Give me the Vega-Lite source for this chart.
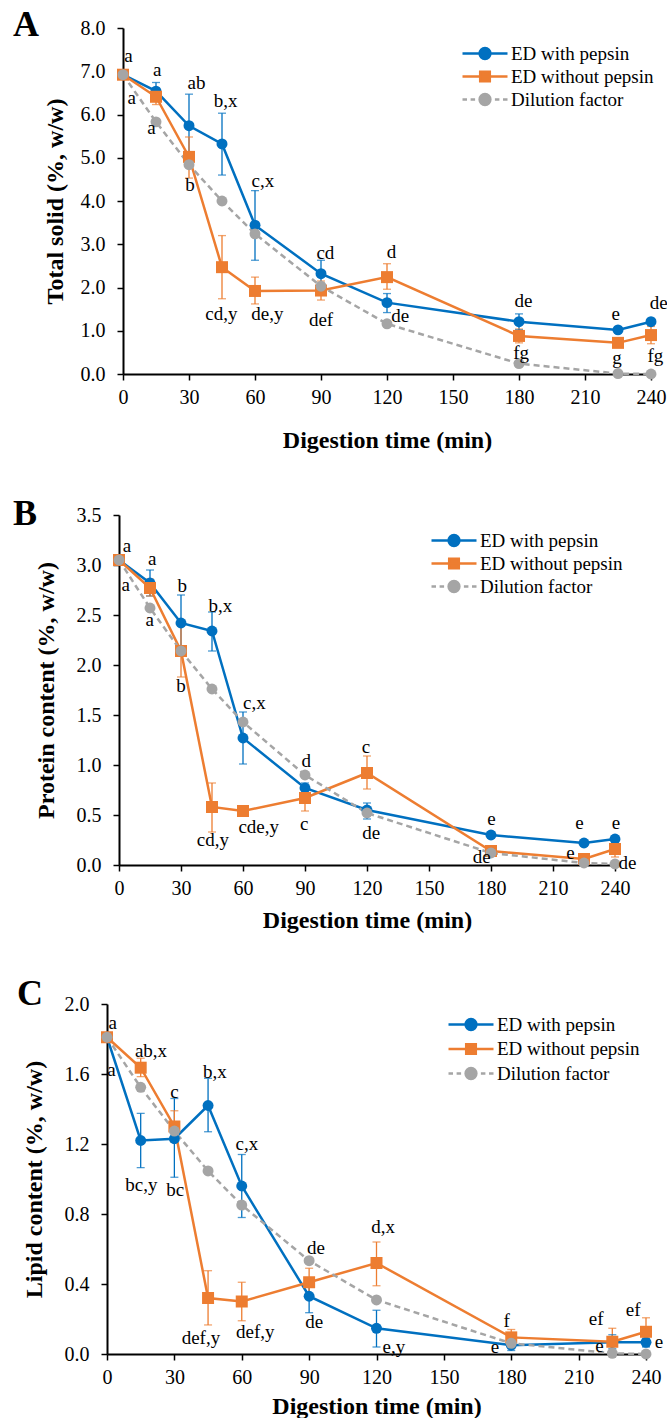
{
  "$schema": "https://vega.github.io/schema/vega-lite/v6.json",
  "background": "white",
  "padding": {"left": 13, "top": 7, "right": 0, "bottom": 0},
  "spacing": 44,
  "config": {
    "view": {"stroke": null},
    "font": "Liberation Serif",
    "axis": {"grid": false, "domainColor": "black", "domainWidth": 2, "tickColor": "black", "tickWidth": 1.5, "tickSize": 6, "labelFont": "Liberation Serif", "labelFontSize": 20, "labelColor": "black", "titleFont": "Liberation Serif", "titleFontSize": 24, "titleFontWeight": "bold", "titleColor": "black"},
    "axisX": {"labelPadding": 7, "titlePadding": 7, "labelFlush": false},
    "axisY": {"labelPadding": 12},
    "legend": {"orient": "none", "title": null, "padding": 0, "labelFont": "Liberation Serif", "labelFontSize": 19, "labelColor": "black", "labelLimit": 0, "symbolSize": 144, "symbolStrokeWidth": 2.5, "symbolOpacity": 1, "labelOffset": 16.5, "rowPadding": 2}
  },
  "datasets": {
    "A": [
      {"s": "ED with pepsin", "t": 0, "v": 6.92},
      {"s": "ED with pepsin", "t": 15, "v": 6.54, "lo": 6.34, "hi": 6.74},
      {"s": "ED with pepsin", "t": 30, "v": 5.74, "lo": 5.01, "hi": 6.47},
      {"s": "ED with pepsin", "t": 45, "v": 5.32, "lo": 4.60, "hi": 6.03},
      {"s": "ED with pepsin", "t": 60, "v": 3.44, "lo": 2.63, "hi": 4.24},
      {"s": "ED with pepsin", "t": 90, "v": 2.32, "lo": 2.01, "hi": 2.63},
      {"s": "ED with pepsin", "t": 120, "v": 1.65, "lo": 1.42, "hi": 1.86},
      {"s": "ED with pepsin", "t": 180, "v": 1.21, "lo": 1.02, "hi": 1.39},
      {"s": "ED with pepsin", "t": 225, "v": 1.02, "lo": 0.97, "hi": 1.07},
      {"s": "ED with pepsin", "t": 240, "v": 1.21, "lo": 1.15, "hi": 1.27},
      {"s": "ED without pepsin", "t": 0, "v": 6.92},
      {"s": "ED without pepsin", "t": 15, "v": 6.41, "lo": 6.23, "hi": 6.59},
      {"s": "ED without pepsin", "t": 30, "v": 5.02, "lo": 4.53, "hi": 5.48},
      {"s": "ED without pepsin", "t": 45, "v": 2.47, "lo": 1.74, "hi": 3.20},
      {"s": "ED without pepsin", "t": 60, "v": 1.92, "lo": 1.62, "hi": 2.24},
      {"s": "ED without pepsin", "t": 90, "v": 1.93, "lo": 1.71, "hi": 2.15},
      {"s": "ED without pepsin", "t": 120, "v": 2.24, "lo": 1.96, "hi": 2.55},
      {"s": "ED without pepsin", "t": 180, "v": 0.88, "lo": 0.72, "hi": 1.04},
      {"s": "ED without pepsin", "t": 225, "v": 0.72, "lo": 0.66, "hi": 0.78},
      {"s": "ED without pepsin", "t": 240, "v": 0.90, "lo": 0.70, "hi": 1.10},
      {"s": "Dilution factor", "t": 0, "v": 6.92},
      {"s": "Dilution factor", "t": 15, "v": 5.83},
      {"s": "Dilution factor", "t": 30, "v": 4.84},
      {"s": "Dilution factor", "t": 45, "v": 4.00},
      {"s": "Dilution factor", "t": 60, "v": 3.24},
      {"s": "Dilution factor", "t": 90, "v": 2.03},
      {"s": "Dilution factor", "t": 120, "v": 1.16},
      {"s": "Dilution factor", "t": 180, "v": 0.24},
      {"s": "Dilution factor", "t": 225, "v": 0.01},
      {"s": "Dilution factor", "t": 240, "v": 0.0}
    ],
    "A_lab": [
      {"t": 2.5, "v": 7.35, "lab": "a"}, {"t": 4, "v": 6.38, "lab": "a"},
      {"t": 15.6, "v": 7.04, "lab": "a"}, {"t": 12.9, "v": 5.69, "lab": "a"},
      {"t": 33.4, "v": 6.73, "lab": "ab"}, {"t": 30.5, "v": 4.38, "lab": "b"},
      {"t": 46.6, "v": 6.32, "lab": "b,x"}, {"t": 63.6, "v": 4.46, "lab": "c,x"},
      {"t": 44.7, "v": 1.38, "lab": "cd,y"}, {"t": 65.6, "v": 1.38, "lab": "de,y"},
      {"t": 92, "v": 2.8, "lab": "cd"}, {"t": 90, "v": 1.24, "lab": "def"},
      {"t": 122, "v": 2.82, "lab": "d"}, {"t": 126, "v": 1.34, "lab": "de"},
      {"t": 182, "v": 1.69, "lab": "de"}, {"t": 181, "v": 0.49, "lab": "fg"},
      {"t": 224, "v": 1.38, "lab": "e"}, {"t": 224.5, "v": 0.38, "lab": "g"},
      {"t": 243.5, "v": 1.65, "lab": "de"}, {"t": 242, "v": 0.42, "lab": "fg"}
    ],
    "B": [
      {"s": "ED with pepsin", "t": 0, "v": 3.05},
      {"s": "ED with pepsin", "t": 15, "v": 2.82, "lo": 2.69, "hi": 2.95},
      {"s": "ED with pepsin", "t": 30, "v": 2.42, "lo": 2.14, "hi": 2.70},
      {"s": "ED with pepsin", "t": 45, "v": 2.34, "lo": 2.14, "hi": 2.53},
      {"s": "ED with pepsin", "t": 60, "v": 1.27, "lo": 1.01, "hi": 1.53},
      {"s": "ED with pepsin", "t": 90, "v": 0.77, "lo": 0.72, "hi": 0.82},
      {"s": "ED with pepsin", "t": 120, "v": 0.55, "lo": 0.46, "hi": 0.62},
      {"s": "ED with pepsin", "t": 180, "v": 0.30, "lo": 0.27, "hi": 0.33},
      {"s": "ED with pepsin", "t": 225, "v": 0.22, "lo": 0.20, "hi": 0.24},
      {"s": "ED with pepsin", "t": 240, "v": 0.26, "lo": 0.23, "hi": 0.29},
      {"s": "ED without pepsin", "t": 0, "v": 3.05},
      {"s": "ED without pepsin", "t": 15, "v": 2.77, "lo": 2.69, "hi": 2.86},
      {"s": "ED without pepsin", "t": 30, "v": 2.14, "lo": 1.88, "hi": 2.40},
      {"s": "ED without pepsin", "t": 45, "v": 0.58, "lo": 0.33, "hi": 0.82},
      {"s": "ED without pepsin", "t": 60, "v": 0.54, "lo": 0.50, "hi": 0.58},
      {"s": "ED without pepsin", "t": 90, "v": 0.67, "lo": 0.54, "hi": 0.80},
      {"s": "ED without pepsin", "t": 120, "v": 0.92, "lo": 0.76, "hi": 1.09},
      {"s": "ED without pepsin", "t": 180, "v": 0.14, "lo": 0.10, "hi": 0.18},
      {"s": "ED without pepsin", "t": 225, "v": 0.06, "lo": 0.03, "hi": 0.09},
      {"s": "ED without pepsin", "t": 240, "v": 0.16, "lo": 0.08, "hi": 0.24},
      {"s": "Dilution factor", "t": 0, "v": 3.05},
      {"s": "Dilution factor", "t": 15, "v": 2.57},
      {"s": "Dilution factor", "t": 30, "v": 2.14},
      {"s": "Dilution factor", "t": 45, "v": 1.76},
      {"s": "Dilution factor", "t": 60, "v": 1.43},
      {"s": "Dilution factor", "t": 90, "v": 0.90},
      {"s": "Dilution factor", "t": 120, "v": 0.52},
      {"s": "Dilution factor", "t": 180, "v": 0.12},
      {"s": "Dilution factor", "t": 225, "v": 0.02},
      {"s": "Dilution factor", "t": 240, "v": 0.01}
    ],
    "B_lab": [
      {"t": 3.8, "v": 3.19, "lab": "a"}, {"t": 3.2, "v": 2.8, "lab": "a"},
      {"t": 16.1, "v": 3.06, "lab": "a"}, {"t": 14.9, "v": 2.45, "lab": "a"},
      {"t": 30.6, "v": 2.79, "lab": "b"}, {"t": 30, "v": 1.79, "lab": "b"},
      {"t": 49, "v": 2.59, "lab": "b,x"}, {"t": 65.5, "v": 1.62, "lab": "c,x"},
      {"t": 45.4, "v": 0.25, "lab": "cd,y"}, {"t": 67.6, "v": 0.38, "lab": "cde,y"},
      {"t": 90.6, "v": 1.04, "lab": "d"}, {"t": 89.6, "v": 0.41, "lab": "c"},
      {"t": 119.5, "v": 1.18, "lab": "c"}, {"t": 122, "v": 0.32, "lab": "de"},
      {"t": 180.2, "v": 0.46, "lab": "e"}, {"t": 175.5, "v": 0.08, "lab": "de"},
      {"t": 222.8, "v": 0.42, "lab": "e"}, {"t": 218.4, "v": 0.12, "lab": "e"},
      {"t": 240.5, "v": 0.42, "lab": "e"}, {"t": 246, "v": 0.02, "lab": "de"}
    ],
    "C": [
      {"s": "ED with pepsin", "t": 0, "v": 1.81},
      {"s": "ED with pepsin", "t": 15, "v": 1.22, "lo": 1.065, "hi": 1.375},
      {"s": "ED with pepsin", "t": 30, "v": 1.23, "lo": 1.01, "hi": 1.46},
      {"s": "ED with pepsin", "t": 45, "v": 1.42, "lo": 1.27, "hi": 1.575},
      {"s": "ED with pepsin", "t": 60, "v": 0.96, "lo": 0.78, "hi": 1.14},
      {"s": "ED with pepsin", "t": 90, "v": 0.33, "lo": 0.236, "hi": 0.424},
      {"s": "ED with pepsin", "t": 120, "v": 0.147, "lo": 0.04, "hi": 0.25},
      {"s": "ED with pepsin", "t": 180, "v": 0.05, "lo": 0.02, "hi": 0.08},
      {"s": "ED with pepsin", "t": 225, "v": 0.067, "lo": 0.03, "hi": 0.11},
      {"s": "ED with pepsin", "t": 240, "v": 0.067, "lo": 0.04, "hi": 0.09},
      {"s": "ED without pepsin", "t": 0, "v": 1.81},
      {"s": "ED without pepsin", "t": 15, "v": 1.636, "lo": 1.585, "hi": 1.69},
      {"s": "ED without pepsin", "t": 30, "v": 1.30, "lo": 1.21, "hi": 1.39},
      {"s": "ED without pepsin", "t": 45, "v": 0.32, "lo": 0.166, "hi": 0.476},
      {"s": "ED without pepsin", "t": 60, "v": 0.30, "lo": 0.19, "hi": 0.41},
      {"s": "ED without pepsin", "t": 90, "v": 0.41, "lo": 0.33, "hi": 0.49},
      {"s": "ED without pepsin", "t": 120, "v": 0.52, "lo": 0.39, "hi": 0.64},
      {"s": "ED without pepsin", "t": 180, "v": 0.095, "lo": 0.05, "hi": 0.14},
      {"s": "ED without pepsin", "t": 225, "v": 0.07, "lo": 0.0, "hi": 0.147},
      {"s": "ED without pepsin", "t": 240, "v": 0.127, "lo": 0.05, "hi": 0.207},
      {"s": "Dilution factor", "t": 0, "v": 1.81},
      {"s": "Dilution factor", "t": 15, "v": 1.524},
      {"s": "Dilution factor", "t": 30, "v": 1.274},
      {"s": "Dilution factor", "t": 45, "v": 1.046},
      {"s": "Dilution factor", "t": 60, "v": 0.851},
      {"s": "Dilution factor", "t": 90, "v": 0.533},
      {"s": "Dilution factor", "t": 120, "v": 0.309},
      {"s": "Dilution factor", "t": 180, "v": 0.061},
      {"s": "Dilution factor", "t": 225, "v": 0.004},
      {"s": "Dilution factor", "t": 240, "v": 0.0}
    ],
    "C_lab": [
      {"t": 2.6, "v": 1.893, "lab": "a"}, {"t": 2.0, "v": 1.623, "lab": "a"},
      {"t": 19.6, "v": 1.731, "lab": "ab,x"}, {"t": 30, "v": 1.499, "lab": "c"},
      {"t": 48, "v": 1.613, "lab": "b,x"}, {"t": 62.3, "v": 1.198, "lab": "c,x"},
      {"t": 15.3, "v": 0.966, "lab": "bc,y"}, {"t": 30.4, "v": 0.937, "lab": "bc"},
      {"t": 41.8, "v": 0.09, "lab": "def,y"}, {"t": 66, "v": 0.127, "lab": "def,y"},
      {"t": 93, "v": 0.607, "lab": "de"}, {"t": 92.3, "v": 0.181, "lab": "de"},
      {"t": 123, "v": 0.727, "lab": "d,x"}, {"t": 127.7, "v": 0.042, "lab": "e,y"},
      {"t": 178, "v": 0.189, "lab": "f"}, {"t": 172.7, "v": 0.038, "lab": "e"},
      {"t": 217.8, "v": 0.2, "lab": "ef"}, {"t": 219.3, "v": 0.046, "lab": "e"},
      {"t": 234.3, "v": 0.251, "lab": "ef"}, {"t": 245.8, "v": 0.07, "lab": "e"}
    ]
  },
  "resolve": {
    "scale": {"x": "independent", "y": "independent", "fill": "independent", "stroke": "independent", "shape": "independent"},
    "axis": {"x": "independent", "y": "independent"},
    "legend": {"fill": "independent", "stroke": "independent", "shape": "independent"}
  },
  "vconcat": [
    {
      "width": 544, "height": 346,
      "title": {"text": "A", "anchor": "start", "frame": "group", "font": "Liberation Serif", "fontSize": 36, "fontWeight": "bold", "color": "black", "dx": -94, "dy": 54, "offset": 0, "baseline": "alphabetic"},
      "data": {"name": "A"},
      "layer": [
        {"transform": [{"filter": "isValid(datum.lo)"}], "mark": {"type": "rule", "strokeWidth": 1.3},
         "encoding": {"x": {"field": "t", "type": "quantitative", "title": "Digestion time (min)"}, "y": {"field": "lo", "type": "quantitative", "title": "Total solid (%, w/w)"}, "y2": {"field": "hi"},
          "stroke": {"field": "s", "type": "nominal", "scale": {"domain": ["ED with pepsin", "ED without pepsin", "Dilution factor"], "range": ["#0070C0", "#ED7D31", "#A5A5A5"]}}}},
        {"transform": [{"filter": "isValid(datum.lo)"}], "mark": {"type": "tick", "orient": "horizontal", "size": 8, "thickness": 1.3},
         "encoding": {"x": {"field": "t", "type": "quantitative", "title": "Digestion time (min)"}, "y": {"field": "hi", "type": "quantitative", "title": "Total solid (%, w/w)"},
          "fill": {"field": "s", "type": "nominal", "scale": {"domain": ["ED with pepsin", "ED without pepsin", "Dilution factor"], "range": ["#0070C0", "#ED7D31", "#A5A5A5"]}}}},
        {"transform": [{"filter": "isValid(datum.lo)"}], "mark": {"type": "tick", "orient": "horizontal", "size": 8, "thickness": 1.3},
         "encoding": {"x": {"field": "t", "type": "quantitative", "title": "Digestion time (min)"}, "y": {"field": "lo", "type": "quantitative", "title": "Total solid (%, w/w)"},
          "fill": {"field": "s", "type": "nominal"}}},
        {"transform": [{"filter": "datum.s !== 'Dilution factor'"}], "mark": {"type": "line", "strokeWidth": 2.5},
         "encoding": {
          "x": {"field": "t", "type": "quantitative", "scale": {"domain": [0, 240], "nice": false, "range": [16, 544]}, "axis": {"title": "Digestion time (min)", "values": [0, 30, 60, 90, 120, 150, 180, 210, 240], "titlePadding": 21}},
          "y": {"field": "v", "type": "quantitative", "scale": {"domain": [0, 8], "nice": false}, "axis": {"title": "Total solid (%, w/w)", "values": [0, 1, 2, 3, 4, 5, 6, 7, 8], "format": ".1f", "titlePadding": 13, "offset": -16}},
          "stroke": {"field": "s", "type": "nominal"}}},
        {"transform": [{"filter": "datum.s === 'Dilution factor'"}], "mark": {"type": "line", "strokeWidth": 2.5, "strokeDash": [6, 4]},
         "encoding": {"x": {"field": "t", "type": "quantitative", "title": "Digestion time (min)"}, "y": {"field": "v", "type": "quantitative", "title": "Total solid (%, w/w)"}, "stroke": {"field": "s", "type": "nominal"}}},
        {"transform": [{"filter": "datum.s === 'ED with pepsin'"}], "mark": {"type": "point", "filled": true, "opacity": 1, "shape": "circle", "size": 120},
         "encoding": {"x": {"field": "t", "type": "quantitative", "title": "Digestion time (min)"}, "y": {"field": "v", "type": "quantitative", "title": "Total solid (%, w/w)"}, "fill": {"field": "s", "type": "nominal"}}},
        {"transform": [{"filter": "datum.s === 'ED without pepsin'"}], "mark": {"type": "point", "filled": true, "opacity": 1, "shape": "square", "size": 144},
         "encoding": {"x": {"field": "t", "type": "quantitative", "title": "Digestion time (min)"}, "y": {"field": "v", "type": "quantitative", "title": "Total solid (%, w/w)"}, "fill": {"field": "s", "type": "nominal"}}},
        {"transform": [{"filter": "datum.s === 'Dilution factor'"}], "mark": {"type": "point", "filled": true, "opacity": 1, "shape": "circle", "size": 120},
         "encoding": {"x": {"field": "t", "type": "quantitative", "title": "Digestion time (min)"}, "y": {"field": "v", "type": "quantitative", "title": "Total solid (%, w/w)"}, "fill": {"field": "s", "type": "nominal"}}},
        {"data": {"name": "A_lab"}, "mark": {"type": "text", "font": "Liberation Serif", "fontSize": 19, "color": "black"},
         "encoding": {"x": {"field": "t", "type": "quantitative", "title": "Digestion time (min)"}, "y": {"field": "v", "type": "quantitative", "title": "Total solid (%, w/w)"}, "text": {"field": "lab"}}},
        {"mark": {"type": "point", "filled": true, "opacity": 0},
         "encoding": {"x": {"field": "t", "type": "quantitative", "title": "Digestion time (min)"}, "y": {"field": "v", "type": "quantitative", "title": "Total solid (%, w/w)"},
          "fill": {"field": "s", "type": "nominal", "legend": {"legendX": 368.5, "legendY": 16, "symbolOpacity": 1}},
          "stroke": {"field": "s", "type": "nominal", "legend": {"legendX": 368.5, "legendY": 16, "symbolOpacity": 1}},
          "shape": {"field": "s", "type": "nominal", "scale": {"domain": ["ED with pepsin", "ED without pepsin", "Dilution factor"], "range": ["M-3.75,0H3.75M0.9,0A0.9,0.9 0 1,1 -0.9,0A0.9,0.9 0 1,1 0.9,0Z", "M-3.75,0H3.75M-0.8,-0.8H0.8V0.8H-0.8Z", "M-3.75,0H-3M-2.4,0H-1.65M-1.05,0H-0.6M0.6,0H1.05M1.65,0H2.4M3,0H3.75M0.9,0A0.9,0.9 0 1,1 -0.9,0A0.9,0.9 0 1,1 0.9,0Z"]}, "legend": {"legendX": 368.5, "legendY": 16, "symbolOpacity": 1}}}}
      ]
    },
    {
      "width": 508, "height": 350,
      "title": {"text": "B", "anchor": "start", "frame": "group", "font": "Liberation Serif", "fontSize": 36, "fontWeight": "bold", "color": "black", "dx": -94, "dy": 56, "offset": 0, "baseline": "alphabetic"},
      "data": {"name": "B"},
      "layer": [
        {"transform": [{"filter": "isValid(datum.lo)"}], "mark": {"type": "rule", "strokeWidth": 1.3},
         "encoding": {"x": {"field": "t", "type": "quantitative", "title": "Digestion time (min)"}, "y": {"field": "lo", "type": "quantitative", "title": "Protein content (%, w/w)"}, "y2": {"field": "hi"},
          "stroke": {"field": "s", "type": "nominal", "scale": {"domain": ["ED with pepsin", "ED without pepsin", "Dilution factor"], "range": ["#0070C0", "#ED7D31", "#A5A5A5"]}}}},
        {"transform": [{"filter": "isValid(datum.lo)"}], "mark": {"type": "tick", "orient": "horizontal", "size": 8, "thickness": 1.3},
         "encoding": {"x": {"field": "t", "type": "quantitative", "title": "Digestion time (min)"}, "y": {"field": "hi", "type": "quantitative", "title": "Protein content (%, w/w)"},
          "fill": {"field": "s", "type": "nominal", "scale": {"domain": ["ED with pepsin", "ED without pepsin", "Dilution factor"], "range": ["#0070C0", "#ED7D31", "#A5A5A5"]}}}},
        {"transform": [{"filter": "isValid(datum.lo)"}], "mark": {"type": "tick", "orient": "horizontal", "size": 8, "thickness": 1.3},
         "encoding": {"x": {"field": "t", "type": "quantitative", "title": "Digestion time (min)"}, "y": {"field": "lo", "type": "quantitative", "title": "Protein content (%, w/w)"},
          "fill": {"field": "s", "type": "nominal"}}},
        {"transform": [{"filter": "datum.s !== 'Dilution factor'"}], "mark": {"type": "line", "strokeWidth": 2.5},
         "encoding": {
          "x": {"field": "t", "type": "quantitative", "scale": {"domain": [0, 240], "nice": false, "range": [12, 508]}, "axis": {"title": "Digestion time (min)", "values": [0, 30, 60, 90, 120, 150, 180, 210, 240], "titlePadding": 10}},
          "y": {"field": "v", "type": "quantitative", "scale": {"domain": [0, 3.5], "nice": false}, "axis": {"title": "Protein content (%, w/w)", "values": [0, 0.5, 1, 1.5, 2, 2.5, 3, 3.5], "format": ".1f", "titlePadding": 18, "offset": -12}},
          "stroke": {"field": "s", "type": "nominal"}}},
        {"transform": [{"filter": "datum.s === 'Dilution factor'"}], "mark": {"type": "line", "strokeWidth": 2.5, "strokeDash": [6, 4]},
         "encoding": {"x": {"field": "t", "type": "quantitative", "title": "Digestion time (min)"}, "y": {"field": "v", "type": "quantitative", "title": "Protein content (%, w/w)"}, "stroke": {"field": "s", "type": "nominal"}}},
        {"transform": [{"filter": "datum.s === 'ED with pepsin'"}], "mark": {"type": "point", "filled": true, "opacity": 1, "shape": "circle", "size": 120},
         "encoding": {"x": {"field": "t", "type": "quantitative", "title": "Digestion time (min)"}, "y": {"field": "v", "type": "quantitative", "title": "Protein content (%, w/w)"}, "fill": {"field": "s", "type": "nominal"}}},
        {"transform": [{"filter": "datum.s === 'ED without pepsin'"}], "mark": {"type": "point", "filled": true, "opacity": 1, "shape": "square", "size": 144},
         "encoding": {"x": {"field": "t", "type": "quantitative", "title": "Digestion time (min)"}, "y": {"field": "v", "type": "quantitative", "title": "Protein content (%, w/w)"}, "fill": {"field": "s", "type": "nominal"}}},
        {"transform": [{"filter": "datum.s === 'Dilution factor'"}], "mark": {"type": "point", "filled": true, "opacity": 1, "shape": "circle", "size": 120},
         "encoding": {"x": {"field": "t", "type": "quantitative", "title": "Digestion time (min)"}, "y": {"field": "v", "type": "quantitative", "title": "Protein content (%, w/w)"}, "fill": {"field": "s", "type": "nominal"}}},
        {"data": {"name": "B_lab"}, "mark": {"type": "text", "font": "Liberation Serif", "fontSize": 19, "color": "black"},
         "encoding": {"x": {"field": "t", "type": "quantitative", "title": "Digestion time (min)"}, "y": {"field": "v", "type": "quantitative", "title": "Protein content (%, w/w)"}, "text": {"field": "lab"}}},
        {"mark": {"type": "point", "filled": true, "opacity": 0},
         "encoding": {"x": {"field": "t", "type": "quantitative", "title": "Digestion time (min)"}, "y": {"field": "v", "type": "quantitative", "title": "Protein content (%, w/w)"},
          "fill": {"field": "s", "type": "nominal", "legend": {"legendX": 337.5, "legendY": 16, "symbolOpacity": 1}},
          "stroke": {"field": "s", "type": "nominal", "legend": {"legendX": 337.5, "legendY": 16, "symbolOpacity": 1}},
          "shape": {"field": "s", "type": "nominal", "scale": {"domain": ["ED with pepsin", "ED without pepsin", "Dilution factor"], "range": ["M-3.75,0H3.75M0.9,0A0.9,0.9 0 1,1 -0.9,0A0.9,0.9 0 1,1 0.9,0Z", "M-3.75,0H3.75M-0.8,-0.8H0.8V0.8H-0.8Z", "M-3.75,0H-3M-2.4,0H-1.65M-1.05,0H-0.6M0.6,0H1.05M1.65,0H2.4M3,0H3.75M0.9,0A0.9,0.9 0 1,1 -0.9,0A0.9,0.9 0 1,1 0.9,0Z"]}, "legend": {"legendX": 337.5, "legendY": 16, "symbolOpacity": 1}}}}
      ]
    },
    {
      "width": 539, "height": 350,
      "title": {"text": "C", "anchor": "start", "frame": "group", "font": "Liberation Serif", "fontSize": 36, "fontWeight": "bold", "color": "black", "dx": -90, "dy": 47, "offset": 0, "baseline": "alphabetic"},
      "data": {"name": "C"},
      "layer": [
        {"transform": [{"filter": "isValid(datum.lo)"}], "mark": {"type": "rule", "strokeWidth": 1.3},
         "encoding": {"x": {"field": "t", "type": "quantitative", "title": "Digestion time (min)"}, "y": {"field": "lo", "type": "quantitative", "title": "Lipid content (%, w/w)"}, "y2": {"field": "hi"},
          "stroke": {"field": "s", "type": "nominal", "scale": {"domain": ["ED with pepsin", "ED without pepsin", "Dilution factor"], "range": ["#0070C0", "#ED7D31", "#A5A5A5"]}}}},
        {"transform": [{"filter": "isValid(datum.lo)"}], "mark": {"type": "tick", "orient": "horizontal", "size": 8, "thickness": 1.3},
         "encoding": {"x": {"field": "t", "type": "quantitative", "title": "Digestion time (min)"}, "y": {"field": "hi", "type": "quantitative", "title": "Lipid content (%, w/w)"},
          "fill": {"field": "s", "type": "nominal", "scale": {"domain": ["ED with pepsin", "ED without pepsin", "Dilution factor"], "range": ["#0070C0", "#ED7D31", "#A5A5A5"]}}}},
        {"transform": [{"filter": "isValid(datum.lo)"}], "mark": {"type": "tick", "orient": "horizontal", "size": 8, "thickness": 1.3},
         "encoding": {"x": {"field": "t", "type": "quantitative", "title": "Digestion time (min)"}, "y": {"field": "lo", "type": "quantitative", "title": "Lipid content (%, w/w)"},
          "fill": {"field": "s", "type": "nominal"}}},
        {"transform": [{"filter": "datum.s !== 'Dilution factor'"}], "mark": {"type": "line", "strokeWidth": 2.5},
         "encoding": {
          "x": {"field": "t", "type": "quantitative", "scale": {"domain": [0, 240], "nice": false}, "axis": {"title": "Digestion time (min)", "values": [0, 30, 60, 90, 120, 150, 180, 210, 240], "titlePadding": 7}},
          "y": {"field": "v", "type": "quantitative", "scale": {"domain": [0, 2], "nice": false}, "axis": {"title": "Lipid content (%, w/w)", "values": [0, 0.4, 0.8, 1.2, 1.6, 2.0], "format": ".1f", "titlePadding": 18}},
          "stroke": {"field": "s", "type": "nominal"}}},
        {"transform": [{"filter": "datum.s === 'Dilution factor'"}], "mark": {"type": "line", "strokeWidth": 2.5, "strokeDash": [6, 4]},
         "encoding": {"x": {"field": "t", "type": "quantitative", "title": "Digestion time (min)"}, "y": {"field": "v", "type": "quantitative", "title": "Lipid content (%, w/w)"}, "stroke": {"field": "s", "type": "nominal"}}},
        {"transform": [{"filter": "datum.s === 'ED with pepsin'"}], "mark": {"type": "point", "filled": true, "opacity": 1, "shape": "circle", "size": 120},
         "encoding": {"x": {"field": "t", "type": "quantitative", "title": "Digestion time (min)"}, "y": {"field": "v", "type": "quantitative", "title": "Lipid content (%, w/w)"}, "fill": {"field": "s", "type": "nominal"}}},
        {"transform": [{"filter": "datum.s === 'ED without pepsin'"}], "mark": {"type": "point", "filled": true, "opacity": 1, "shape": "square", "size": 144},
         "encoding": {"x": {"field": "t", "type": "quantitative", "title": "Digestion time (min)"}, "y": {"field": "v", "type": "quantitative", "title": "Lipid content (%, w/w)"}, "fill": {"field": "s", "type": "nominal"}}},
        {"transform": [{"filter": "datum.s === 'Dilution factor'"}], "mark": {"type": "point", "filled": true, "opacity": 1, "shape": "circle", "size": 120},
         "encoding": {"x": {"field": "t", "type": "quantitative", "title": "Digestion time (min)"}, "y": {"field": "v", "type": "quantitative", "title": "Lipid content (%, w/w)"}, "fill": {"field": "s", "type": "nominal"}}},
        {"data": {"name": "C_lab"}, "mark": {"type": "text", "font": "Liberation Serif", "fontSize": 19, "color": "black"},
         "encoding": {"x": {"field": "t", "type": "quantitative", "title": "Digestion time (min)"}, "y": {"field": "v", "type": "quantitative", "title": "Lipid content (%, w/w)"}, "text": {"field": "lab"}}},
        {"mark": {"type": "point", "filled": true, "opacity": 0},
         "encoding": {"x": {"field": "t", "type": "quantitative", "title": "Digestion time (min)"}, "y": {"field": "v", "type": "quantitative", "title": "Lipid content (%, w/w)"},
          "fill": {"field": "s", "type": "nominal", "legend": {"legendX": 354.5, "legendY": 11, "rowPadding": 3.5, "symbolOpacity": 1}},
          "stroke": {"field": "s", "type": "nominal", "legend": {"legendX": 354.5, "legendY": 11, "rowPadding": 3.5, "symbolOpacity": 1}},
          "shape": {"field": "s", "type": "nominal", "scale": {"domain": ["ED with pepsin", "ED without pepsin", "Dilution factor"], "range": ["M-3.75,0H3.75M0.9,0A0.9,0.9 0 1,1 -0.9,0A0.9,0.9 0 1,1 0.9,0Z", "M-3.75,0H3.75M-0.8,-0.8H0.8V0.8H-0.8Z", "M-3.75,0H-3M-2.4,0H-1.65M-1.05,0H-0.6M0.6,0H1.05M1.65,0H2.4M3,0H3.75M0.9,0A0.9,0.9 0 1,1 -0.9,0A0.9,0.9 0 1,1 0.9,0Z"]}, "legend": {"legendX": 354.5, "legendY": 11, "rowPadding": 3.5, "symbolOpacity": 1}}}}
      ]
    }
  ]
}
